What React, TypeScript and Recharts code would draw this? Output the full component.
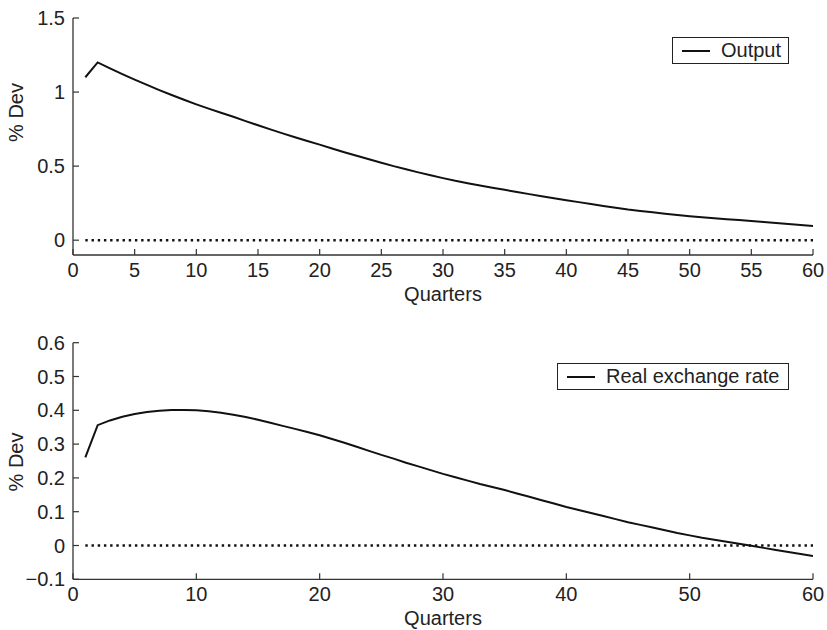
import React from 'react';
import { LineChart, Line, XAxis, YAxis, ReferenceLine, Legend, Label } from 'recharts';

// ---------- data ----------
const quarters = [
  1, 2, 3, 4, 5, 6, 7, 8, 9, 10, 11, 12, 13, 14, 15, 16, 17, 18, 19, 20,
  21, 22, 23, 24, 25, 26, 27, 28, 29, 30, 31, 32, 33, 34, 35, 36, 37, 38, 39, 40,
  41, 42, 43, 44, 45, 46, 47, 48, 49, 50, 51, 52, 53, 54, 55, 56, 57, 58, 59, 60,
];

const outputValues = [
  1.1, 1.2, 1.16, 1.121, 1.084, 1.048, 1.013, 0.98, 0.948, 0.917,
  0.888, 0.86, 0.833, 0.804, 0.776, 0.748, 0.721, 0.695, 0.67, 0.645,
  0.619, 0.594, 0.57, 0.546, 0.523, 0.5, 0.479, 0.458, 0.438, 0.419,
  0.401, 0.385, 0.369, 0.354, 0.34, 0.325, 0.311, 0.297, 0.283, 0.27,
  0.257, 0.244, 0.231, 0.219, 0.207, 0.197, 0.188, 0.179, 0.17, 0.162,
  0.155, 0.148, 0.142, 0.136, 0.13, 0.123, 0.116, 0.109, 0.102, 0.095,
];

const rerValues = [
  0.261, 0.356, 0.37, 0.381, 0.389, 0.395, 0.399, 0.401, 0.401, 0.4,
  0.397, 0.393, 0.387, 0.38, 0.372, 0.363, 0.354, 0.345, 0.336, 0.326,
  0.315, 0.304, 0.292, 0.28, 0.268, 0.257, 0.245, 0.234, 0.223, 0.212,
  0.202, 0.192, 0.182, 0.173, 0.164, 0.154, 0.144, 0.134, 0.124, 0.114,
  0.105, 0.096, 0.087, 0.078, 0.069, 0.061, 0.053, 0.045, 0.037, 0.03,
  0.023, 0.017, 0.011, 0.005, -0.001, -0.007, -0.013, -0.019, -0.025, -0.031,
];

const topXTicks = [0, 5, 10, 15, 20, 25, 30, 35, 40, 45, 50, 55, 60];
const topYTicks = [0, 0.5, 1, 1.5];
const topYDomain = [-0.1, 1.5];
const bottomXTicks = [0, 10, 20, 30, 40, 50, 60];
const bottomYTicks = [-0.1, 0, 0.1, 0.2, 0.3, 0.4, 0.5, 0.6];
const bottomYDomain = [-0.1, 0.6];
const xDomain = [0, 60];

const outputName = 'Output';
const rerName = 'Real exchange rate';
const xLabel = 'Quarters';
const yLabel = '% Dev';

// ---------- style ----------
const FONT = '"Liberation Sans", Arial, sans-serif';
const FS = 20;
const TEXT = '#222';
const AXIS = '#333';
const LINE = '#111';
const TICK_M = 8;
const TICK_LEN = 6;

const fmtNum = (v: number) => {
  const r = Math.round(v * 10) / 10;
  const s = String(Math.abs(r));
  return r < 0 ? '\u2212' + s : s;
};

function makeTick(side: 'bottom' | 'left' | 'top' | 'right', withLabel: boolean) {
  return (p: any) => {
    const { x, y, payload } = p;
    const v = payload.value;
    if (side === 'bottom') {
      const ay = y - TICK_M;
      return (
        <g>
          <line x1={x} x2={x} y1={ay} y2={ay - TICK_LEN} stroke={AXIS} strokeWidth={1.2} />
          {withLabel && (
            <text x={x} y={ay + 22} textAnchor="middle" fontFamily={FONT} fontSize={FS} fill={TEXT}>
              {fmtNum(v)}
            </text>
          )}
        </g>
      );
    }
    if (side === 'left') {
      const ax = x + TICK_M;
      return (
        <g>
          <line x1={ax} x2={ax + TICK_LEN} y1={y} y2={y} stroke={AXIS} strokeWidth={1.2} />
          {withLabel && (
            <text x={ax - 8} y={y + 7} textAnchor="end" fontFamily={FONT} fontSize={FS} fill={TEXT}>
              {fmtNum(v)}
            </text>
          )}
        </g>
      );
    }
    if (side === 'top') {
      const ay = y + TICK_M;
      return <line x1={x} x2={x} y1={ay} y2={ay + TICK_LEN} stroke={AXIS} strokeWidth={1.2} />;
    }
    const ax = x - TICK_M;
    return <line x1={ax} x2={ax - TICK_LEN} y1={y} y2={y} stroke={AXIS} strokeWidth={1.2} />;
  };
}

function LegendBox({ label, width }: { label: string; width: number }) {
  return (
    <div
      style={{
        boxSizing: 'border-box',
        width,
        height: 27,
        border: '1px solid #222',
        background: '#fff',
        display: 'flex',
        alignItems: 'center',
        paddingLeft: 9,
        fontFamily: FONT,
        fontSize: FS,
        color: TEXT,
        whiteSpace: 'nowrap',
      }}
    >
      <div style={{ width: 28, height: 0, borderTop: '2px solid #111', marginRight: 11 }} />
      <span style={{ lineHeight: '25px' }}>{label}</span>
    </div>
  );
}

type PanelProps = {
  data: { q: number; v: number }[];
  name: string;
  xTicks: number[];
  yTicks: number[];
  yDomain: number[];
  marginTop: number;
  xAxisHeight: number;
  yLabelShift: number;
  legendLeft: number;
  legendTop: number;
  legendWidth: number;
};

function Panel(props: PanelProps) {
  const { data, name, xTicks, yTicks, yDomain, marginTop, xAxisHeight, yLabelShift, legendLeft, legendTop, legendWidth } = props;
  return (
    <LineChart width={827} height={315} data={data} margin={{ top: marginTop, right: 14, bottom: 0, left: 0 }}>
      <XAxis
        dataKey="q"
        type="number"
        domain={xDomain}
        ticks={xTicks}
        interval={0}
        height={xAxisHeight}
        tickSize={0}
        tickMargin={TICK_M}
        tickLine={false}
        axisLine={{ stroke: AXIS, strokeWidth: 1.3 }}
        tick={makeTick('bottom', true)}
        allowDataOverflow
      >
        <Label
          content={(lp: any) => {
            const vb = lp.viewBox;
            return (
              <text x={vb.x + vb.width / 2} y={vb.y + 46} textAnchor="middle" fontFamily={FONT} fontSize={FS} fill={TEXT}>
                {xLabel}
              </text>
            );
          }}
        />
      </XAxis>
      <XAxis
        xAxisId="top"
        orientation="top"
        type="number"
        domain={xDomain}
        ticks={xTicks}
        interval={0}
        height={0}
        tickSize={0}
        tickMargin={TICK_M}
        tickLine={false}
        axisLine={{ stroke: AXIS, strokeWidth: 1.3 }}
        tick={makeTick('top', false)}
        allowDataOverflow
      />
      <YAxis
        type="number"
        domain={yDomain}
        ticks={yTicks}
        interval={0}
        width={73}
        tickSize={0}
        tickMargin={TICK_M}
        tickLine={false}
        axisLine={{ stroke: AXIS, strokeWidth: 1.3 }}
        tick={makeTick('left', true)}
        allowDataOverflow
      >
        <Label
          content={(lp: any) => {
            const vb = lp.viewBox;
            const cy = vb.y + vb.height / 2 + yLabelShift;
            return (
              <text
                transform={`translate(16, ${cy}) rotate(-90)`}
                textAnchor="middle"
                dominantBaseline="central"
                fontFamily={FONT}
                fontSize={FS}
                fill={TEXT}
              >
                {yLabel}
              </text>
            );
          }}
        />
      </YAxis>
      <YAxis
        yAxisId="right"
        orientation="right"
        type="number"
        domain={yDomain}
        ticks={yTicks}
        interval={0}
        width={0}
        tickSize={0}
        tickMargin={TICK_M}
        tickLine={false}
        axisLine={{ stroke: AXIS, strokeWidth: 1.3 }}
        tick={makeTick('right', false)}
        allowDataOverflow
      />
      <ReferenceLine
        segment={[
          { x: quarters[0], y: 0 },
          { x: quarters[quarters.length - 1], y: 0 },
        ]}
        stroke={LINE}
        strokeWidth={2.5}
        strokeDasharray="2.4 3.8"
        ifOverflow="visible"
      />
      <Line
        type="linear"
        dataKey="v"
        name={name}
        stroke={LINE}
        strokeWidth={2}
        dot={false}
        activeDot={false}
        isAnimationActive={false}
      />
      <Legend
        layout="horizontal"
        verticalAlign="middle"
        align="center"
        wrapperStyle={{ left: legendLeft, top: legendTop, width: 'auto', height: 'auto', right: 'auto', bottom: 'auto' }}
        content={() => <LegendBox label={name} width={legendWidth} />}
      />
    </LineChart>
  );
}

const outputData = quarters.map((q, i) => ({ q, v: outputValues[i] }));
const rerData = quarters.map((q, i) => ({ q, v: rerValues[i] }));

export default function App() {
  return (
    <div style={{ position: 'absolute', left: 0, top: 0, width: 827, height: 630, background: '#fff' }}>
      <div style={{ position: 'absolute', left: 0, top: 0 }}>
        <Panel
          data={outputData}
          name={outputName}
          xTicks={topXTicks}
          yTicks={topYTicks}
          yDomain={topYDomain}
          marginTop={18}
          xAxisHeight={60}
          yLabelShift={-24}
          legendLeft={672}
          legendTop={37}
          legendWidth={117}
        />
      </div>
      <div style={{ position: 'absolute', left: 0, top: 315 }}>
        <Panel
          data={rerData}
          name={rerName}
          xTicks={bottomXTicks}
          yTicks={bottomYTicks}
          yDomain={bottomYDomain}
          marginTop={27.7}
          xAxisHeight={50.7}
          yLabelShift={1}
          legendLeft={557}
          legendTop={48}
          legendWidth={232}
        />
      </div>
    </div>
  );
}
